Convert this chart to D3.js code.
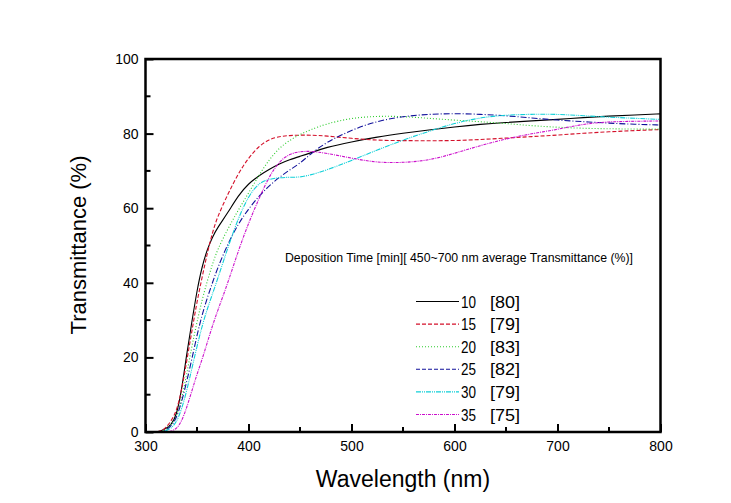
<!DOCTYPE html>
<html><head><meta charset="utf-8">
<script src="https://cdn.jsdelivr.net/npm/d3@7"></script>
<style>body{margin:0;background:#fff}svg{display:block}</style>
</head><body>
<svg id="chart" width="731" height="503"></svg>
<script>
const wavelengths = [300,310,315,320,325,330,335,340,345,350,355,360,365,370,380,390,400,410,420,430,440,450,460,475,500,525,550,575,600,625,650,675,700,725,750,775,800];
const t10 = [0,0,0.3,0.9,2.0,4.3,11,21,29.5,38,44.5,49,52.3,54.8,58.8,63.4,66.6,68.7,70.4,71.9,73,73.9,74.8,76.3,77.8,79.1,80.1,81,81.8,82.5,83,83.4,83.8,84.3,84.7,85,85.3];
const t15 = [0,0,0.2,1.2,3,5.5,11,19,27,35,41.5,48,53.5,57.8,63.8,69.3,73.5,76.6,78.5,79.2,79.5,79.6,79.6,79.4,78.7,78.2,78.1,78.1,78.1,78.4,78.8,79.2,79.6,80.1,80.5,80.8,81.1];
const t20 = [0,0,0,0.7,2,4,8.5,15.5,23,29.5,35.5,40.5,45,49,54.5,59.5,64,68.8,73,76.2,78.2,79.8,81,82.6,84.2,84.7,84.6,84.1,83.6,83.2,82.7,82.1,81.7,81.4,81.3,81.2,81.2];
const t25 = [0,0,0,0.5,1.6,3.6,8,13.5,19.5,26,31.5,36,40,44,50.5,55.8,59.8,63.2,66,68.3,70.3,72,74.5,77.6,81,83.4,84.6,85.2,85.4,85.2,84.8,84.2,83.6,83.2,82.8,82.5,82.3];
const t30 = [0,0,0,0.3,1,2.6,6,11,17,23,28.5,33,37,41,49.5,57.3,63.3,66.8,67.8,68.2,68.3,68.3,68.9,70.1,72.8,75.6,78.3,80.6,82.8,84.3,85,85.2,85.2,84.8,84.4,84.1,83.8];
const t35 = [0,0,0,0,0.2,0.8,2.8,6.5,11,15.5,19.5,24,28.5,32.5,40,48.5,56,62.5,68.5,72.6,74.6,75.2,75.3,74.8,73.4,72.2,72.2,72.8,74.7,76.8,78.6,80,81.1,82.6,83.2,83.3,83.4];
const seriesNames = ["10","15","20","25","30","35"];
const averages = ["[80]","[79]","[83]","[82]","[79]","[75]"];
const seriesValues = [t10,t15,t20,t25,t30,t35];
const colors = ["#000000","#d4102a","#2ecc2e","#10109a","#10d0d8","#cc10cc"];
const dashes = [null,"4,2","1,2","6,2,1,2","5,1,1,1,1,1","3,1,1,1"];
const legendDashes = [null,"4,2","1,2","4,2","5,1,1,1,1,1","3,1,1,1"];
const xTicks = [300,400,500,600,700,800];
const yTicks = [0,20,40,60,80,100];
const legendTitle = "Deposition Time [min][ 450~700 nm average Transmittance (%)]";

const svg = d3.select("#chart");
const x = d3.scaleLinear().domain([300,800]).range([145.5,660.5]);
const y = d3.scaleLinear().domain([0,100]).range([432,59]);
const g = svg.append("g");

// curves
const line = d3.line().x(d=>x(d[0])).y(d=>y(d[1])).curve(d3.curveBasis);
seriesValues.forEach((vals,i)=>{
  const pts = wavelengths.map((w,j)=>[w,vals[j]]);
  g.append("path").attr("d",line(pts)).attr("fill","none")
   .attr("stroke",colors[i]).attr("stroke-width",1.1)
   .attr("stroke-dasharray",dashes[i]);
});

// axes (inward ticks)
const font = "'Liberation Sans', Arial, sans-serif";
const xAxis = d3.axisBottom(x).tickValues(xTicks).tickSizeInner(-8).tickSizeOuter(0).tickPadding(12);
const yAxis = d3.axisLeft(y).tickValues(yTicks).tickSizeInner(-8).tickSizeOuter(0).tickPadding(12);
const xa = g.append("g").attr("transform","translate(0,432)").call(xAxis);
const ya = g.append("g").attr("transform","translate(145.5,0)").call(yAxis);
[xa,ya].forEach(a=>{
  a.select(".domain").remove();
  a.selectAll(".tick line").attr("stroke","#000").attr("stroke-width",2);
  a.selectAll(".tick text").attr("font-family",font).attr("font-size",14).attr("fill","#000");
});
xa.selectAll(".tick text").attr("dy","0.71em").attr("y",9);
ya.selectAll(".tick text").attr("x",-7);
// minor ticks
const xMinor = d3.range(350,800,100);
g.selectAll(".xminor").data(xMinor).enter().append("line")
 .attr("x1",d=>x(d)).attr("x2",d=>x(d)).attr("y1",432).attr("y2",427)
 .attr("stroke","#000").attr("stroke-width",2);
const yMinor = d3.range(10,100,20);
g.selectAll(".yminor").data(yMinor).enter().append("line")
 .attr("y1",d=>y(d)).attr("y2",d=>y(d)).attr("x1",145.5).attr("x2",150.5)
 .attr("stroke","#000").attr("stroke-width",2);

// frame
g.append("rect").attr("x",x(300)).attr("y",y(100)).attr("width",x(800)-x(300)).attr("height",y(0)-y(100))
 .attr("fill","none").attr("stroke","#000").attr("stroke-width",2.5);

// axis titles
svg.append("text").attr("x",403).attr("y",487).attr("text-anchor","middle")
 .attr("font-family",font).attr("font-size",23).text("Wavelength (nm)");
svg.append("text").attr("transform","translate(86,245) rotate(-90)").attr("text-anchor","middle")
 .attr("font-family",font).attr("font-size",22).text("Transmittance (%)");

// legend
const nfont = "'Liberation Sans Narrow', 'Liberation Sans', Arial, sans-serif";
svg.append("text").attr("x",285).attr("y",262).attr("font-family",nfont).attr("font-size",13)
 .attr("textLength",348).attr("lengthAdjust","spacingAndGlyphs").text(legendTitle);
const ly = d3.scaleLinear().domain([0,5]).range([301.5,414.5]);
seriesNames.forEach((n,i)=>{
  svg.append("line").attr("x1",416).attr("x2",459).attr("y1",ly(i)).attr("y2",ly(i))
   .attr("stroke",colors[i]).attr("stroke-width",1.1).attr("stroke-dasharray",legendDashes[i]);
  svg.append("text").attr("x",461).attr("y",ly(i)+6).attr("font-family",nfont).attr("font-size",16)
   .attr("textLength",15).attr("lengthAdjust","spacingAndGlyphs").text(n);
  svg.append("text").attr("x",490).attr("y",ly(i)+6).attr("font-family",nfont).attr("font-size",16)
   .attr("textLength",30).attr("lengthAdjust","spacingAndGlyphs").text(averages[i]);
});
</script>
</body></html>
